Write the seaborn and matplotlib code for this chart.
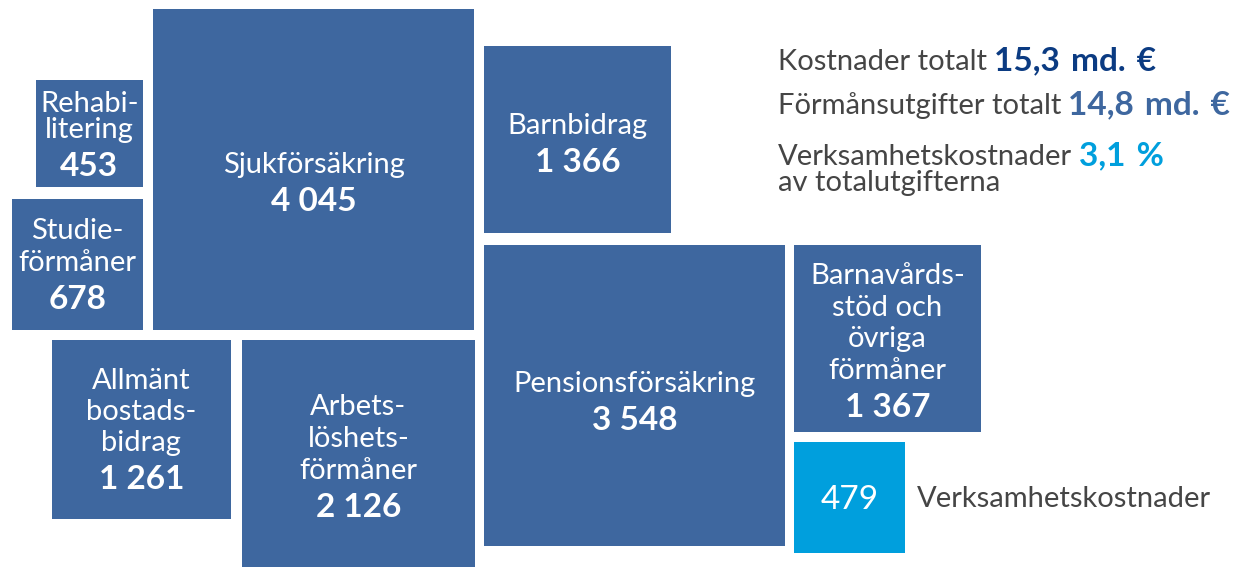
import matplotlib
matplotlib.use("Agg")
import matplotlib.pyplot as plt
import seaborn as sns
import numpy as np
import pandas as pd
from matplotlib.patches import Rectangle

# ---------------- data ----------------
categories = ["Sjukförsäkring", "Rehabi-\nlitering", "Studie-\nförmåner",
              "Allmänt\nbostads-\nbidrag", "Arbets-\nlöshets-\nförmåner",
              "Barnbidrag", "Pensionsförsäkring",
              "Barnavårds-\nstöd och\növriga\nförmåner", "Verksamhetskostnader"]
values = [4045, 453, 678, 1261, 2126, 1366, 3548, 1367, 479]   # mn €
summary_labels = ["Kostnader totalt", "Förmånsutgifter totalt",
                  "Verksamhetskostnader", "av totalutgifterna"]
summary_values = ["15,3 md. €", "14,8 md. €", "3,1 %", ""]

# ---------------- layout / style (not data) ----------------
# anchor: (x, y, horizontal edge, vertical edge) in pixel space
layout = [
    (153, 9, "left", "top"),
    (143, 80, "right", "top"),
    (143, 330, "right", "bottom"),
    (231, 340, "right", "top"),
    (242, 340, "left", "top"),
    (484, 233, "left", "bottom"),
    (484, 245, "left", "top"),
    (794, 245, "left", "top"),
    (794, 442, "left", "top"),
]
line_gap = [32, 26, 32, 31, 32, 32, 32, 31.5, 32]
text_shift = [11, -1, -1, -2, -1, 2, 4.5, 1, 0]
DARK = "#3E679F"
LIGHT = "#009FDD"
NAVY = "#0B3B82"
GREY = "#454545"
K = 5.05  # px per sqrt(value)
FONT = ["Lato", "DejaVu Sans"]
FS = 21      # labels
FSN = 24     # numbers
SP = "\u2004"

sns.set_theme(style="white")
plt.rcParams["font.family"] = FONT

df = pd.DataFrame({"category": categories, "value": values})
df["side"] = K * np.sqrt(df["value"])

fig = plt.figure(figsize=(12.55, 5.67), dpi=100)
ax = fig.add_axes([0, 0, 1, 1])
ax.set_xlim(0, 1255)
ax.set_ylim(567, 0)
ax.axis("off")

CAP = 22
for i, row in df.iterrows():
    s = row["side"]
    ax_, ay_, hx, vy = layout[i]
    x0 = ax_ if hx == "left" else ax_ - s
    y0 = ay_ if vy == "top" else ay_ - s
    is_ops = i == len(df) - 1
    color = LIGHT if is_ops else DARK
    ax.add_patch(Rectangle((x0, y0), s, s, facecolor=color, edgecolor="none"))
    cx = x0 + s / 2
    cy = y0 + s / 2
    num = f"{int(row['value']):,}".replace(",", " ")
    if is_ops:
        ax.text(cx, cy + 12, num, color="white", fontsize=FSN,
                ha="center", va="baseline")
        ax.text(x0 + s + 12, cy + 10, row["category"], color=GREY,
                fontsize=FS, ha="left", va="baseline")
        continue
    lines = row["category"].split("\n")
    g = line_gap[i]
    ngap = 38
    total = (len(lines) - 1) * g + ngap + CAP
    first = cy + text_shift[i] - total / 2 + CAP
    for j, ln in enumerate(lines):
        ax.text(cx, first + j * g, ln, color="white", fontsize=FS,
                ha="center", va="baseline")
    ax.text(cx, first + (len(lines) - 1) * g + ngap, num, color="white",
            fontsize=FSN, ha="center", va="baseline", fontweight="bold")

# summary text
baselines = [70, 114, 165, 191]
vcolors = [NAVY, DARK, LIGHT, NAVY]
fig.canvas.draw()
r = fig.canvas.get_renderer()
inv = ax.transData.inverted()
for lab, val, yb, c in zip(summary_labels, summary_values, baselines, vcolors):
    t = ax.text(778, yb, lab, color=GREY, fontsize=FS, ha="left", va="baseline")
    if val:
        bb = t.get_window_extent(renderer=r)
        xe = inv.transform((bb.x1, bb.y0))[0]
        ax.text(xe + 7, yb, val.replace(" ", SP), color=c, fontsize=FSN,
                ha="left", va="baseline", fontweight="bold")

fig.savefig("out.png", dpi=100)
